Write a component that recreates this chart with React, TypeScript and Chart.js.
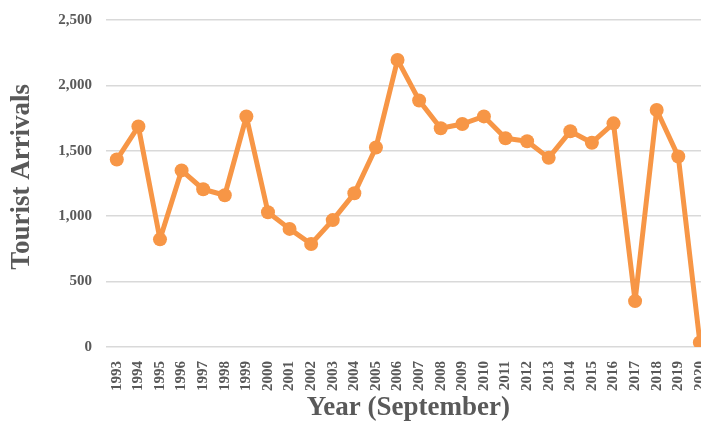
import React, { useEffect, useRef } from "react";
import { Chart, registerables } from "chart.js";

Chart.register(...registerables);

const years: string[] = [
  "1993", "1994", "1995", "1996", "1997", "1998", "1999", "2000", "2001", "2002",
  "2003", "2004", "2005", "2006", "2007", "2008", "2009", "2010", "2011", "2012",
  "2013", "2014", "2015", "2016", "2017", "2018", "2019", "2020",
];

const arrivals: number[] = [
  1433, 1686, 823, 1350, 1206, 1160, 1762, 1030, 903, 788,
  970, 1175, 1525, 2195, 1885, 1672, 1705, 1763, 1596, 1573,
  1446, 1649, 1562, 1710, 351, 1812, 1456, 35,
];

const yTickValues: number[] = [0, 500, 1000, 1500, 2000, 2500];

const TEXT = "#595959";
const ORANGE = "#F79646";
const FONT = "'Liberation Serif', 'Times New Roman', serif";

export default function App() {
  const ref = useRef<HTMLCanvasElement | null>(null);

  useEffect(() => {
    if (!ref.current) return;
    const chart = new Chart(ref.current, {
      type: "line",
      data: {
        labels: years,
        datasets: [
          {
            data: arrivals,
            borderColor: ORANGE,
            backgroundColor: ORANGE,
            borderWidth: 5,
            borderJoinStyle: "round",
            borderCapStyle: "round",
            pointRadius: 7,
            pointBorderWidth: 0,
            pointBackgroundColor: ORANGE,
            tension: 0,
          },
        ],
      },
      options: {
        responsive: false,
        animation: false,
        layout: { padding: { top: 7, left: 0, right: 0, bottom: 0 } },
        plugins: { legend: { display: false }, tooltip: { enabled: false } },
        scales: {
          x: {
            offset: true,
            grid: { display: false, drawTicks: false },
            border: { display: false },
            ticks: {
              autoSkip: false,
              minRotation: 90,
              maxRotation: 90,
              padding: 14,
              color: TEXT,
              font: { family: FONT, size: 15, weight: "bold" },
            },
            title: {
              display: true,
              text: "Year (September)",
              color: TEXT,
              padding: 0,
              font: { family: FONT, size: 27, weight: "bold", lineHeight: 1 },
            },
            afterFit: (s: any) => {
              s.height = 75;
            },
          },
          y: {
            min: 0,
            max: 2500,
            afterBuildTicks: (s: any) => {
              s.ticks = yTickValues.map((v) => ({ value: v }));
            },
            grid: { color: "#d9d9d9", lineWidth: 1.5, drawTicks: false },
            border: { display: false },
            ticks: {
              padding: 14,
              color: TEXT,
              font: { family: FONT, size: 15, weight: "bold" },
              callback: (v: any) => Number(v).toLocaleString("en-US"),
            },
            title: {
              display: true,
              text: "  Tourist Arrivals",
              color: TEXT,
              padding: { top: 9, bottom: 0 },
              font: { family: FONT, size: 27, weight: "bold", lineHeight: 1 },
            },
            afterFit: (s: any) => {
              s.width = 106;
            },
          },
        },
      },
    });
    return () => chart.destroy();
  }, []);

  return (
    <div
      style={{
        position: "absolute",
        left: 0,
        top: 0,
        width: 701,
        height: 422,
        overflow: "hidden",
        background: "#fff",
      }}
    >
      <canvas
        ref={ref}
        width={732}
        height={425}
        style={{ display: "block", marginTop: -3 }}
      />
    </div>
  );
}
